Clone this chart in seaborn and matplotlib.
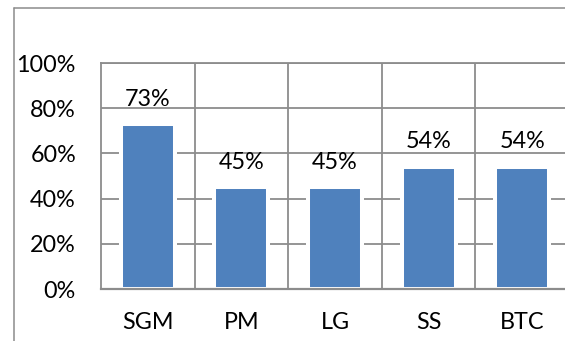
import matplotlib
matplotlib.use("Agg")
import matplotlib.pyplot as plt
from matplotlib.lines import Line2D
from matplotlib.ticker import FixedLocator
import seaborn as sns

# ---- data ----
categories = ["SGM", "PM", "LG", "SS", "BTC"]
values = [0.73, 0.45, 0.45, 0.54, 0.54]
ytick_values = [0.0, 0.2, 0.4, 0.6, 0.8, 1.0]
ytick_labels = ["0%", "20%", "40%", "60%", "80%", "100%"]

# ---- style ----
sns.set_theme(style="white")
plt.rcParams["font.family"] = ["Lato", "DejaVu Sans"]

BAR = "#4F81BD"
GRID = "#8C8C8C"
FS = 16.8

fig = plt.figure(figsize=(5.65, 3.41), dpi=100)
ax = fig.add_axes([101 / 565, 1 - 289 / 341, 468 / 565, 226 / 341])

# white backing bars (create the gap in gridlines around bars)
sns.barplot(x=categories, y=values, color="white", width=0.613,
            saturation=1, errorbar=None, ax=ax, zorder=2.1, linewidth=0)
# blue bars
sns.barplot(x=categories, y=values, color=BAR, width=0.576, saturation=1,
            errorbar=None, ax=ax, zorder=2.2, edgecolor="white", linewidth=2.9)

ax.set_xlim(-0.5, len(categories) - 0.5)
ax.set_ylim(0, 1)
ax.set_yticks(ytick_values)
ax.set_yticklabels(ytick_labels)
ax.set_xlabel("")
ax.set_ylabel("")

# grid: horizontal at y ticks, vertical at category boundaries
ax.set_axisbelow(True)
ax.xaxis.set_minor_locator(FixedLocator([i + 0.5 for i in range(len(categories) - 1)]))
ax.grid(axis="y", which="major", color=GRID, linewidth=1.3)
ax.grid(axis="x", which="minor", color=GRID, linewidth=1.3)
ax.grid(axis="x", which="major", visible=False)

for s in ax.spines.values():
    s.set_visible(True)
    s.set_color(GRID)
    s.set_linewidth(1.3)
ax.spines["bottom"].set_linewidth(1.6)

ax.tick_params(axis="y", length=0, pad=18.0, labelsize=FS, labelcolor="black")
ax.tick_params(axis="x", which="both", length=0, pad=16.5, labelsize=FS, labelcolor="black")

# data labels
for i, v in enumerate(values):
    ax.annotate(f"{v:.0%}", xy=(i, v), xytext=(0, 13.3), textcoords="offset points",
                ha="center", va="baseline", fontsize=FS, color="black")

# outer chart border (left and top visible)
bx = 13.5 / 565
by = 1 - 7.5 / 341
fig.add_artist(Line2D([bx, bx], [0, by], transform=fig.transFigure, color=GRID, linewidth=1.1))
fig.add_artist(Line2D([bx, 1], [by, by], transform=fig.transFigure, color=GRID, linewidth=1.1))

fig.savefig("out.png", dpi=100)
